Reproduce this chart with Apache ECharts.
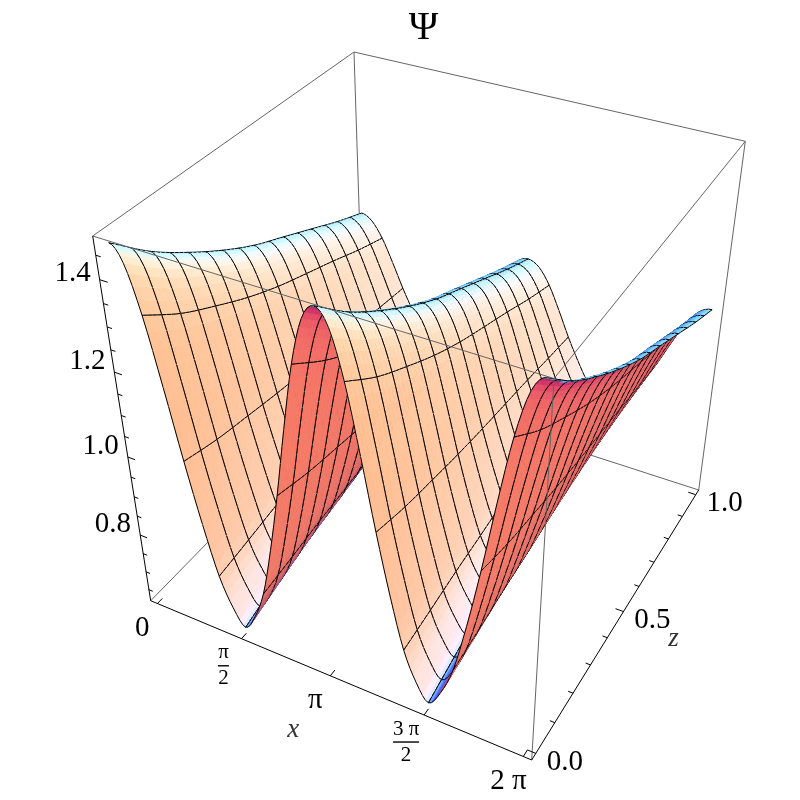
<!DOCTYPE html>
<html>
<head>
<meta charset="utf-8">
<title>Psi surface</title>
<style>
  html, body { margin: 0; padding: 0; background: #fff; }
  #main { width: 800px; height: 800px; }
</style>
<script src="https://cdn.jsdelivr.net/npm/echarts@6/dist/echarts.min.js"></script>
</head>
<body>
<div id="main"></div>
<script>
// psi, one row per z, columns x = 0, pi/16 ... 2 pi
var zLevels = [0, 0.125, 0.25, 0.375, 0.5, 0.625, 0.75, 0.875, 1];
var psiZ0 = [1.471,1.438,1.337,1.187,1.024,0.877,0.752,0.677,0.635,0.677,0.752,0.877,1.024,1.187,1.337,1.438,1.471,1.438,1.337,1.187,1.024,0.877,0.752,0.677,0.635,0.677,0.752,0.877,1.024,1.187,1.337,1.438,1.471];
var psiZ1 = [1.398,1.369,1.280,1.148,1.004,0.875,0.765,0.699,0.662,0.699,0.765,0.875,1.004,1.148,1.280,1.369,1.398,1.369,1.280,1.148,1.004,0.875,0.765,0.699,0.662,0.699,0.765,0.875,1.004,1.148,1.280,1.369,1.398];
var psiZ2 = [1.340,1.314,1.236,1.118,0.991,0.877,0.779,0.721,0.688,0.721,0.779,0.877,0.991,1.118,1.236,1.314,1.340,1.314,1.236,1.118,0.991,0.877,0.779,0.721,0.688,0.721,0.779,0.877,0.991,1.118,1.236,1.314,1.340];
var psiZ3 = [1.289,1.266,1.196,1.092,0.979,0.877,0.790,0.738,0.709,0.738,0.790,0.877,0.979,1.092,1.196,1.266,1.289,1.266,1.196,1.092,0.979,0.877,0.790,0.738,0.709,0.738,0.790,0.877,0.979,1.092,1.196,1.266,1.289];
var psiZ4 = [1.245,1.224,1.163,1.070,0.970,0.880,0.803,0.757,0.731,0.757,0.803,0.880,0.970,1.070,1.163,1.224,1.245,1.224,1.163,1.070,0.970,0.880,0.803,0.757,0.731,0.757,0.803,0.880,0.970,1.070,1.163,1.224,1.245];
var psiZ5 = [1.210,1.192,1.136,1.053,0.963,0.883,0.814,0.772,0.749,0.772,0.814,0.883,0.963,1.053,1.136,1.192,1.210,1.192,1.136,1.053,0.963,0.883,0.814,0.772,0.749,0.772,0.814,0.883,0.963,1.053,1.136,1.192,1.210];
var psiZ6 = [1.175,1.159,1.110,1.036,0.956,0.885,0.823,0.786,0.766,0.786,0.823,0.885,0.956,1.036,1.110,1.159,1.175,1.159,1.110,1.036,0.956,0.885,0.823,0.786,0.766,0.786,0.823,0.885,0.956,1.036,1.110,1.159,1.175];
var psiZ7 = [1.140,1.126,1.082,1.017,0.947,0.884,0.830,0.797,0.779,0.797,0.830,0.884,0.947,1.017,1.082,1.126,1.140,1.126,1.082,1.017,0.947,0.884,0.830,0.797,0.779,0.797,0.830,0.884,0.947,1.017,1.082,1.126,1.140];
var psiZ8 = [1.109,1.096,1.058,1.001,0.939,0.884,0.836,0.808,0.792,0.808,0.836,0.884,0.939,1.001,1.058,1.096,1.109,1.096,1.058,1.001,0.939,0.884,0.836,0.808,0.792,0.808,0.836,0.884,0.939,1.001,1.058,1.096,1.109];
var psiRows = [psiZ0, psiZ1, psiZ2, psiZ3, psiZ4, psiZ5, psiZ6, psiZ7, psiZ8];

// axes
var PI = Math.PI;
var xTickValues = [0, PI / 2, PI, 3 * PI / 2, 2 * PI];
var xTickLabels = ['0', 'π\n2', 'π', '3 π\n2', '2 π'];
var zTickValues = [0, 0.1, 0.2, 0.3, 0.4, 0.5, 0.6, 0.7, 0.8, 0.9, 1];
var zTickLabels = ['0.0', '', '', '', '', '0.5', '', '', '', '', '1.0'];
var yTickValues = [0.65, 0.7, 0.75, 0.8, 0.85, 0.9, 0.95, 1, 1.05, 1.1, 1.15, 1.2, 1.25, 1.3, 1.35, 1.4, 1.45];
var yTickLabels = ['', '', '', '0.8', '', '', '', '1.0', '', '', '', '1.2', '', '', '', '1.4', ''];
var yBottom = 0.618, yTop = 1.488;
var padFrac = 0.02;

// where the corners of the unit box land in the picture: [X, Y, Z, px, py]
var boxCorners = [
  [0, 0, 0, 150.7, 600.7], [1, 0, 0, 531.7, 760], [1, 0, 1, 698.7, 490], [0, 0, 1, 364.7, 382],
  [0, 1, 0, 92.7, 236], [1, 1, 0, 554, 378.5], [1, 1, 1, 745.3, 141.3], [0, 1, 1, 354, 52]
];
var backEdges = [[0, 3], [3, 2], [3, 7], [7, 4], [7, 6], [2, 6]];
var frontEdges = [[4, 5], [5, 6], [1, 5]];
var axisEdges = [[0, 1], [1, 2], [0, 4]];

// mesh: 16 cells each way, refined for drawing
var cellsX = 128, cellsZ = 64, meshStepX = 8, meshStepZ = 4;

function solveCamera(points) {
  var n = 11, ata = [], atb = [], i, j, k;
  for (i = 0; i < n; i++) { ata.push(new Array(n).fill(0)); atb.push(0); }
  function add(row, b) {
    for (var r = 0; r < n; r++) {
      atb[r] += row[r] * b;
      for (var c = 0; c < n; c++) ata[r][c] += row[r] * row[c];
    }
  }
  points.forEach(function (p) {
    add([p[0], p[1], p[2], 1, 0, 0, 0, 0, -p[3] * p[0], -p[3] * p[1], -p[3] * p[2]], p[3]);
    add([0, 0, 0, 0, p[0], p[1], p[2], 1, -p[4] * p[0], -p[4] * p[1], -p[4] * p[2]], p[4]);
  });
  for (i = 0; i < n; i++) {
    var best = i;
    for (j = i + 1; j < n; j++) if (Math.abs(ata[j][i]) > Math.abs(ata[best][i])) best = j;
    var tmp = ata[i]; ata[i] = ata[best]; ata[best] = tmp;
    tmp = atb[i]; atb[i] = atb[best]; atb[best] = tmp;
    for (j = i + 1; j < n; j++) {
      var f = ata[j][i] / ata[i][i];
      for (k = i; k < n; k++) ata[j][k] -= f * ata[i][k];
      atb[j] -= f * atb[i];
    }
  }
  var out = new Array(n);
  for (i = n - 1; i >= 0; i--) {
    var s = atb[i];
    for (k = i + 1; k < n; k++) s -= ata[i][k] * out[k];
    out[i] = s / ata[i][i];
  }
  return out;
}
var cam = solveCamera(boxCorners);

function depthOf(X, Y, Z) { return cam[8] * X + cam[9] * Y + cam[10] * Z + 1; }
function project(X, Y, Z) {
  var w = depthOf(X, Y, Z);
  return [(cam[0] * X + cam[1] * Y + cam[2] * Z + cam[3]) / w, (cam[4] * X + cam[5] * Y + cam[6] * Z + cam[7]) / w];
}
function boxX(x) { return padFrac + (1 - 2 * padFrac) * x / (2 * PI); }
function boxZ(z) { return padFrac + (1 - 2 * padFrac) * z; }
function boxY(psi) { return (psi - yBottom) / (yTop - yBottom); }

function cubic(a, b, c, d, t) {
  return b + 0.5 * t * (c - a + t * (2 * a - 5 * b + 4 * c - d + t * (3 * (b - c) + d - a)));
}
function rowAt(v) {
  var nr = psiRows.length - 1, p = Math.min(Math.floor(v * nr), nr - 1), t = v * nr - p;
  return psiRows[0].map(function (_, c) {
    var b = psiRows[p][c], e = psiRows[p + 1][c];
    var a = p > 0 ? psiRows[p - 1][c] : 2 * b - e;
    var d = p + 2 <= nr ? psiRows[p + 2][c] : 2 * e - b;
    return cubic(a, b, e, d, t);
  });
}
function colAt(row, u) {
  var nc = row.length - 1, p = Math.min(Math.floor(u * nc), nc - 1), t = u * nc - p;
  var a = p > 0 ? row[p - 1] : row[1];
  var d = p + 2 <= nc ? row[p + 2] : row[nc - 1];
  return cubic(a, row[p], row[p + 1], d, t);
}

// refined surface in box coordinates
var surf = [], i, j;
for (j = 0; j <= cellsZ; j++) {
  var r = rowAt(j / cellsZ), line = [];
  for (i = 0; i <= cellsX; i++) line.push(boxY(colAt(r, i / cellsX)));
  surf.push(line);
}
function nodeX(i) { return padFrac + (1 - 2 * padFrac) * i / cellsX; }
function nodeZ(j) { return padFrac + (1 - 2 * padFrac) * j / cellsZ; }
function nodePx(i, j) { return project(nodeX(i), surf[j][i], nodeZ(j)); }

// lighting: ambient and three coloured directional lights in view space
var viewBack = [0.4, 0.72, -0.57];
var viewRight = [0.82, 0, 0.575];
var viewUp = [-0.414, 0.697, 0.59];
var ambient = [0.312, 0.188, 0.4];
var lightDirs = [[1.5, -0.5, 2], [1.5, 1.5, 2], [-0.5, 1.5, 2]];
var lightPower = 0.8;
var frontSlopeScale = 0.6, backSlopeScale = 1.5, frontBlueLift = 0.05;
function dot(a, b) { return a[0] * b[0] + a[1] * b[1] + a[2] * b[2]; }
function shade(nx, ny, nz) {
  var front = dot([nx, ny, nz], viewBack) >= 0;
  var scale = front ? frontSlopeScale : backSlopeScale;
  nx *= scale; nz *= scale;
  var len = Math.sqrt(nx * nx + ny * ny + nz * nz), n = [nx / len, ny / len, nz / len];
  var v = [dot(n, viewRight), dot(n, viewUp), dot(n, viewBack)];
  if (!front) v = [-v[0], -v[1], -v[2]];
  // the underside gets darker close to the fold
  var fade = front ? 1 : Math.min(0.97, 0.55 + 1.5 * v[2]);
  var rgb = ambient.map(function (a, c) {
    var d = lightDirs[c], l = Math.sqrt(dot(d, d));
    var k = Math.max(0, (v[0] * d[0] + v[1] * d[1] + v[2] * d[2]) / l);
    var lift = front && c === 2 ? frontBlueLift : 0;
    return Math.min(255, Math.round(255 * (a + lift + lightPower * k * fade)));
  });
  return 'rgb(' + rgb.join(',') + ')';
}

var cells = [];
for (j = 0; j < cellsZ; j++) {
  for (i = 0; i < cellsX; i++) {
    var cx = nodeX(i + 0.5), cz = nodeZ(j + 0.5);
    var cy = (surf[j][i] + surf[j][i + 1] + surf[j + 1][i] + surf[j + 1][i + 1]) / 4;
    var dYdX = ((surf[j][i + 1] + surf[j + 1][i + 1]) - (surf[j][i] + surf[j + 1][i])) / 2 / (nodeX(1) - nodeX(0));
    var dYdZ = ((surf[j + 1][i] + surf[j + 1][i + 1]) - (surf[j][i] + surf[j][i + 1])) / 2 / (nodeZ(1) - nodeZ(0));
    cells.push({ i: i, j: j, depth: depthOf(cx, cy, cz), color: shade(-dYdX, 1, -dYdZ) });
  }
}
var farFirst = depthOf(0, 0, 1) > depthOf(1, 1, 0) ? -1 : 1;
cells.sort(function (a, b) { return farFirst * (a.depth - b.depth); });

var meshStyle = { stroke: '#000', lineWidth: 1, fill: null };

function renderCell(params) {
  var c = cells[params.dataIndex], i = c.i, j = c.j;
  var p00 = nodePx(i, j), p10 = nodePx(i + 1, j), p11 = nodePx(i + 1, j + 1), p01 = nodePx(i, j + 1);
  var kids = [{
    type: 'polygon',
    shape: { points: [p00, p10, p11, p01] },
    style: { fill: c.color, stroke: c.color, lineWidth: 0.6 }
  }];
  function edge(a, b) {
    kids.push({ type: 'line', shape: { x1: a[0], y1: a[1], x2: b[0], y2: b[1] }, style: meshStyle });
  }
  if (i % meshStepX === 0) edge(p00, p01);
  if ((i + 1) % meshStepX === 0) edge(p10, p11);
  if (j % meshStepZ === 0) edge(p00, p10);
  if ((j + 1) % meshStepZ === 0) edge(p01, p11);
  return { type: 'group', children: kids };
}

function cornerPx(k) { return [boxCorners[k][3], boxCorners[k][4]]; }

function edgeSeries(edges, color, width, z) {
  return {
    type: 'custom',
    coordinateSystem: 'none',
    silent: true,
    z: z,
    data: edges,
    renderItem: function (params) {
      var e = edges[params.dataIndex], a = cornerPx(e[0]), b = cornerPx(e[1]);
      return {
        type: 'line',
        shape: { x1: a[0], y1: a[1], x2: b[0], y2: b[1] },
        style: { stroke: color, lineWidth: width }
      };
    }
  };
}

// ticks as short 3d segments starting on the axis edges
var tickSegments = [];
xTickValues.forEach(function (v) {
  tickSegments.push([project(boxX(v), 0, 0), project(boxX(v), 0, 0.02)]);
});
zTickValues.forEach(function (v, k) {
  var len = zTickLabels[k] ? 0.02 : 0.012;
  tickSegments.push([project(1, 0, boxZ(v)), project(1 - len, 0, boxZ(v))]);
});
yTickValues.forEach(function (v, k) {
  var len = yTickLabels[k] ? 0.02 : 0.012;
  tickSegments.push([project(0, boxY(v), 0), project(len, boxY(v), 0)]);
});

var font = '"Liberation Serif", "Times New Roman", serif';
var texts = [];
function addText(str, x, y, size, opts) {
  opts = opts || {};
  texts.push({
    type: 'text',
    silent: true,
    z: 20,
    style: {
      text: str, x: x, y: y,
      fontSize: size,
      fontFamily: font,
      fontStyle: opts.italic ? 'italic' : 'normal',
      lineHeight: opts.lineHeight || size,
      fill: opts.color || '#000',
      textAlign: opts.align || 'center',
      textVerticalAlign: 'middle'
    }
  });
}
xTickValues.forEach(function (v, k) {
  var p = project(boxX(v), 0, 0), label = xTickLabels[k];
  if (label.indexOf('\n') >= 0) {
    var bx = p[0] - 18, by = p[1] + 27, half = label.length > 3 ? 13 : 5.5;
    addText(label, bx, by, 21, { lineHeight: 26 });
    texts.push({
      type: 'line', silent: true, z: 20,
      shape: { x1: bx - half, y1: by, x2: bx + half, y2: by },
      style: { stroke: '#000', lineWidth: 1.4 }
    });
  } else {
    addText(label, p[0] - 15, p[1] + 25, 29);
  }
});
zTickValues.forEach(function (v, k) {
  if (!zTickLabels[k]) return;
  var p = project(1, 0, boxZ(v));
  addText(zTickLabels[k], p[0] + 29, p[1] + 9, 29);
});
yTickValues.forEach(function (v, k) {
  if (!yTickLabels[k]) return;
  var p = project(0, boxY(v), 0);
  addText(yTickLabels[k], p[0] - 9, p[1] - (v > 1.3 ? 6 : 11), 29, { align: 'right' });
});
var xMid = project(boxX(PI), 0, 0), zMid = project(1, 0, boxZ(0.5));
addText('x', xMid[0] - 37, xMid[1] + 54, 27, { italic: true, color: '#333' });
addText('z', zMid[0] + 50, zMid[1] + 27, 27, { italic: true, color: '#333' });

var chart = echarts.init(document.getElementById('main'), null, { renderer: 'canvas' });
chart.setOption({
  animation: false,
  backgroundColor: '#fff',
  title: {
    text: 'Ψ',
    left: 418.5,
    top: 3,
    textAlign: 'center',
    textStyle: { fontFamily: font, fontSize: 40, fontWeight: 'normal', color: '#000' }
  },
  graphic: texts,
  series: [
    edgeSeries(backEdges, '#666', 1, 1),
    {
      type: 'custom',
      coordinateSystem: 'none',
      silent: true,
      z: 2,
      progressive: 0,
      data: cells.map(function (c) { return [c.i, c.j]; }),
      renderItem: renderCell
    },
    edgeSeries(frontEdges, '#666', 1, 3),
    edgeSeries(axisEdges, '#000', 1, 4),
    {
      type: 'custom',
      coordinateSystem: 'none',
      silent: true,
      z: 4,
      data: tickSegments,
      renderItem: function (params) {
        var s = tickSegments[params.dataIndex];
        return {
          type: 'line',
          shape: { x1: s[0][0], y1: s[0][1], x2: s[1][0], y2: s[1][1] },
          style: { stroke: '#000', lineWidth: 1 }
        };
      }
    }
  ]
});
</script>
</body>
</html>
